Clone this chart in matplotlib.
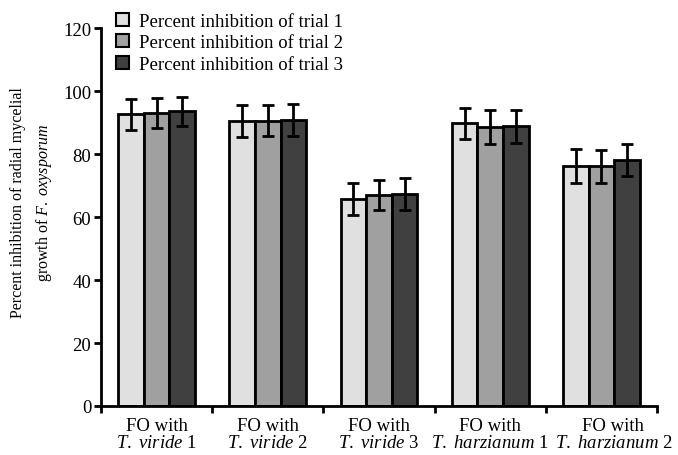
import matplotlib
matplotlib.use("Agg")
import matplotlib.pyplot as plt
import matplotlib.transforms as mtransforms
from matplotlib.patches import Patch
import numpy as np

plt.rcParams['font.family'] = ['Liberation Serif', 'DejaVu Serif']
plt.rcParams['mathtext.fontset'] = 'custom'
plt.rcParams['mathtext.rm'] = 'Liberation Serif'
plt.rcParams['mathtext.it'] = 'Liberation Serif:italic'

# data
categories = ["FO with\n$\\mathit{T.\\ viride}$ 1",
              "FO with\n$\\mathit{T.\\ viride}$ 2",
              "FO with\n$\\mathit{T.\\ viride}$ 3",
              "FO with\n$\\mathit{T.\\ harzianum}$ 1",
              "FO with\n$\\mathit{T.\\ harzianum}$ 2"]
series_names = ["Percent inhibition of trial 1",
                "Percent inhibition of trial 2",
                "Percent inhibition of trial 3"]
trial1 = [92.7, 90.6, 65.8, 89.8, 76.2]
trial2 = [93.2, 90.7, 67.0, 88.7, 76.1]
trial3 = [93.7, 90.9, 67.4, 88.9, 78.2]
err1 = [4.9, 5.0, 5.0, 4.9, 5.3]
err2 = [4.8, 5.0, 4.8, 5.3, 5.2]
err3 = [4.6, 5.0, 5.0, 5.2, 5.0]
colors = ["#e0e0e0", "#a0a0a0", "#404040"]

fig = plt.figure(figsize=(6.78, 4.56), dpi=100)
ax = fig.add_axes([0.149, 0.1075, 0.820, 0.8282])

lw = 2.0
x = np.arange(len(categories))
w = 0.23
for i, (vals, errs) in enumerate(zip([trial1, trial2, trial3], [err1, err2, err3])):
    ax.bar(x + (i - 1) * w, vals, w, color=colors[i], edgecolor="black",
           linewidth=lw, zorder=2)
    ax.errorbar(x + (i - 1) * w, vals, yerr=errs, fmt="none", ecolor="black",
                elinewidth=lw, capsize=4.4, capthick=lw, zorder=3)

ax.set_xlim(-0.5, len(categories) - 0.5)
ax.set_ylim(0, 120)
ax.set_yticks(range(0, 121, 20))
ax.set_xticks(np.arange(-0.5, len(categories), 1.0))
ax.set_xticklabels([])
ax.set_xticks(x, minor=True)
ax.set_xticklabels(categories, minor=True, fontsize=13.5, linespacing=1.0)
ax.tick_params(axis="x", which="minor", length=0, pad=8)
ax.tick_params(axis="x", which="major", direction="out", length=5, width=lw)
ax.tick_params(axis="y", direction="out", length=5, width=lw, labelsize=13.5, pad=2)

# last category label sits a bit to the right in the original
last = ax.get_xticklabels(minor=True)[-1]
last.set_transform(last.get_transform() +
                   mtransforms.ScaledTranslation(12 / 100, 0, fig.dpi_scale_trans))

for s in ["top", "right"]:
    ax.spines[s].set_visible(False)
for s in ["left", "bottom"]:
    ax.spines[s].set_linewidth(lw)

fig.text(32 / 678, 1 - 203 / 456,
         "Percent inhibition of radial mycelial\ngrowth of $\\mathit{F.\\ oxysporum}$",
         fontsize=11.5, rotation=90, ha="center", va="center", linespacing=1.6)

handles = [Patch(facecolor=c, edgecolor="black", linewidth=1.5) for c in colors]
ax.legend(handles, series_names, loc="upper left", bbox_to_anchor=(0.155, 0.995),
          bbox_transform=fig.transFigure, frameon=False, fontsize=13.5,
          handlelength=0.7, handleheight=0.7, handletextpad=0.5,
          labelspacing=0.25, borderaxespad=0.2)

fig.savefig("out.png", dpi=100)
